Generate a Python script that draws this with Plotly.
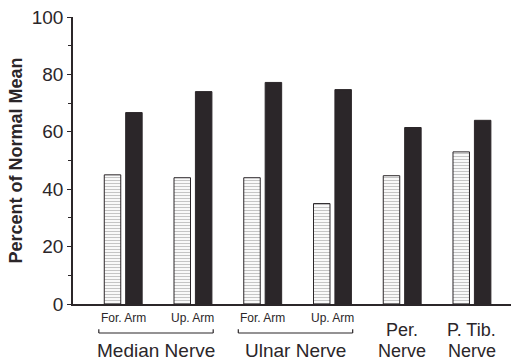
import plotly.graph_objects as go

positions = [0, 1, 2, 3, 4, 5]
sub_labels = ["For. Arm", "Up. Arm", "For. Arm", "Up. Arm", "", ""]
group_labels = ["Median Nerve", "Ulnar Nerve"]
group_members = [[0, 1], [2, 3]]
single_top = {4: "Per.", 5: "P. Tib."}
single_bottom = {4: "Nerve", 5: "Nerve"}
hatched_vals = [45, 44, 44, 35, 44.7, 53]
dark_vals = [66.7, 74, 77.2, 74.7, 61.5, 64]
y_ticks = [0, 20, 40, 60, 80, 100]

FONT = "Liberation Sans, Arial, Helvetica, sans-serif"
INK = "#2b2629"

fig = go.Figure()
fig.add_trace(go.Bar(
    x=positions, y=hatched_vals,
    marker=dict(color="white",
                line=dict(color=INK, width=1),
                pattern=dict(shape="-", fgcolor="#8c8c8c", bgcolor="white",
                             size=3, solidity=0.4)),
    showlegend=False, hoverinfo="skip",
))
fig.add_trace(go.Bar(
    x=positions, y=dark_vals,
    marker=dict(color=INK, line=dict(color=INK, width=1)),
    showlegend=False, hoverinfo="skip",
))

annotations = []
shapes = []
for p, s in zip(positions, sub_labels):
    if s:
        annotations.append(dict(x=p, y=-0.049, xref="x", yref="paper", text=s,
                                showarrow=False, yanchor="middle",
                                font=dict(size=12, family=FONT, color=INK)))
for lab, mem in zip(group_labels, group_members):
    x0 = mem[0] - 0.35
    x1 = mem[-1] + 0.29
    shapes.append(dict(type="line", xref="x", yref="paper", x0=x0, x1=x1,
                       y0=-0.101, y1=-0.101, line=dict(color=INK, width=1.2)))
    for xe in (x0, x1):
        shapes.append(dict(type="line", xref="x", yref="paper", x0=xe, x1=xe,
                           y0=-0.101, y1=-0.088, line=dict(color=INK, width=1.2)))
    annotations.append(dict(x=(x0 + x1) / 2, y=-0.163, xref="x", yref="paper",
                            text=lab, showarrow=False, yanchor="middle",
                            font=dict(size=19, family=FONT, color=INK)))
for p, lab in single_top.items():
    annotations.append(dict(x=p, y=-0.09, xref="x", yref="paper", text=lab,
                            showarrow=False, yanchor="middle",
                            font=dict(size=18, family=FONT, color=INK)))
for p, lab in single_bottom.items():
    annotations.append(dict(x=p, y=-0.165, xref="x", yref="paper", text=lab,
                            showarrow=False, yanchor="middle",
                            font=dict(size=18, family=FONT, color=INK)))

fig.update_layout(
    width=513, height=360,
    margin=dict(l=73, r=2, t=17, b=56),
    paper_bgcolor="white", plot_bgcolor="white",
    barmode="group", bargap=0.386, bargroupgap=0.23,
    annotations=annotations, shapes=shapes,
    xaxis=dict(range=[-0.72, 5.56], showticklabels=False, ticks="",
               showgrid=False, zeroline=False, showline=True,
               linecolor=INK, linewidth=1.5),
    yaxis=dict(range=[0, 100], tickvals=y_ticks, showgrid=False,
               zeroline=False, showline=True, linecolor=INK, linewidth=1.5,
               ticks="outside", ticklen=4, tickcolor=INK, tickwidth=1.2,
               minor=dict(dtick=10, ticks="outside", ticklen=3,
                          tickcolor=INK, tickwidth=1),
               tickfont=dict(size=19, family=FONT, color=INK),
               title=dict(text="<b>Percent of Normal Mean</b>",
                          font=dict(size=18, family=FONT, color=INK),
                          standoff=4)),
)

fig.write_html("out.html", config={"displayModeBar": False},
               post_script="document.body.style.margin='0';document.body.style.overflow='hidden';")
